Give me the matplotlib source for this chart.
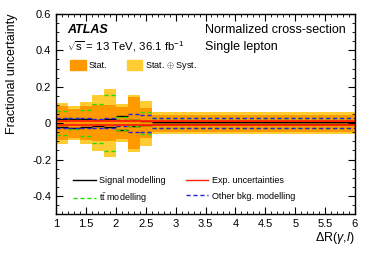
import numpy as np
import matplotlib
matplotlib.use("Agg")
import matplotlib.pyplot as plt
from matplotlib.patches import Patch
from matplotlib.lines import Line2D

plt.rcParams['font.family'] = ['Liberation Sans', 'DejaVu Sans']
plt.rcParams['mathtext.fontset'] = 'custom'
plt.rcParams['mathtext.rm'] = 'Liberation Sans'
plt.rcParams['mathtext.it'] = 'Liberation Sans:italic'
plt.rcParams['mathtext.bf'] = 'Liberation Sans:bold'

# bin edges in dR(gamma, l)
edges = [1.0, 1.2, 1.4, 1.6, 1.8, 2.0, 2.2, 2.4, 2.6, 6.0]

# relative uncertainties per bin (symmetric)
stat_syst = [0.113, 0.093, 0.117, 0.152, 0.185, 0.103, 0.157, 0.123, 0.060]
stat = [0.092, 0.080, 0.095, 0.100, 0.098, 0.089, 0.143, 0.084, 0.047]
signal_mod = [0.020, 0.025, 0.020, 0.015, 0.020, 0.040, 0.015, 0.010, 0.005]
tt_mod = [0.067, 0.030, 0.070, 0.107, 0.155, 0.035, 0.018, 0.062, 0.027]
other_bkg = [0.026, 0.028, 0.028, 0.025, 0.026, 0.018, 0.050, 0.047, 0.027]
exp_unc = [0.012, 0.012, 0.012, 0.012, 0.012, 0.012, 0.012, 0.012, 0.012]

c_stat = '#ff9900'
c_tot = '#ffcc33'
c_tt = '#22dd00'
c_bkg = '#2222dd'
c_exp = '#ff2200'

fig = plt.figure(figsize=(3.74, 2.68), dpi=100)
ax = fig.add_axes([0.150, 0.201, 0.799, 0.747])

tot = np.array(stat_syst)
st = np.array(stat)
ax.stairs(tot, edges, baseline=-tot, fill=True, color=c_tot, lw=0)
ax.stairs(st, edges, baseline=-st, fill=True, color=c_stat, lw=0)

lo = edges[:-1]
hi = edges[1:]

def sym(vals, **kw):
    v = np.array(vals)
    ax.hlines(v, lo, hi, **kw)
    ax.hlines(-v, lo, hi, **kw)

sym(signal_mod, color='black', lw=1.0)
sym(tt_mod, color=c_tt, lw=1.0, linestyles=(0, (3, 2)))
sym(other_bkg, color=c_bkg, lw=1.0, linestyles=(0, (3, 2)))
sym(exp_unc, color=c_exp, lw=1.3)

ax.set_xlim(1, 6)
ax.set_ylim(-0.5, 0.6)
ax.set_xticks([1, 1.5, 2, 2.5, 3, 3.5, 4, 4.5, 5, 5.5, 6])
ax.set_xticklabels(['1', '1.5', '2', '2.5', '3', '3.5', '4', '4.5', '5', '5.5', '6'])
ax.set_yticks([-0.4, -0.2, 0, 0.2, 0.4, 0.6])
ax.set_yticklabels(['-0.4', '-0.2', '0', '0.2', '0.4', '0.6'])
ax.set_xticks(np.arange(1, 6.01, 0.1), minor=True)
ax.set_yticks(np.arange(-0.5, 0.601, 0.05), minor=True)
ax.tick_params(which='both', direction='in', top=True, right=True, labelsize=8)
ax.tick_params(which='major', length=5, width=0.8)
ax.tick_params(which='minor', length=2.5, width=0.6)
for s in ax.spines.values():
    s.set_linewidth(1.0)

ax.set_ylabel('Fractional uncertainty', fontsize=9, loc='top', labelpad=10)
ax.set_xlabel(r'$\Delta$R($\gamma$,$l$)', fontsize=9, loc='right', labelpad=1)

tr = ax.transAxes
ax.text(0.037, 0.918, 'ATLAS', transform=tr, fontsize=9, fontweight='bold',
        fontstyle='italic', va='center')
ax.text(0.037, 0.835, r'$\sqrt{\mathrm{s}}$ = 13 TeV, 36.1 fb$^{-1}$', transform=tr,
        fontsize=8.2, va='center')
ax.text(0.497, 0.918, 'Normalized cross-section', transform=tr, fontsize=9, va='center')
ax.text(0.497, 0.835, 'Single lepton', transform=tr, fontsize=9, va='center')

leg1 = ax.legend(handles=[Patch(color=c_stat, label='Stat.'),
                          Patch(color=c_tot, label=r'Stat. $\oplus$ Syst.')],
                 ncol=2, frameon=False, fontsize=6.5, handlelength=1.7, handleheight=1.2,
                 columnspacing=2.2, handletextpad=0.3,
                 loc='center left', bbox_to_anchor=(0.02, 0.74))
ax.add_artist(leg1)

hs = [Line2D([], [], color='black', lw=1.0, label='Signal modelling'),
      Line2D([], [], color=c_tt, lw=1.0, ls=(0, (3, 2)),
             label=r'$\mathrm{t}\bar{\mathrm{t}}$ modelling'),
      Line2D([], [], color=c_exp, lw=1.0, label='Exp. uncertainties'),
      Line2D([], [], color=c_bkg, lw=1.0, ls=(0, (3, 2)), label='Other bkg. modelling')]
ax.legend(handles=hs, ncol=2, frameon=False, fontsize=6.5, handlelength=2.5,
          columnspacing=2.2, handletextpad=0.4, labelspacing=0.75,
          loc='center left', bbox_to_anchor=(0.03, 0.118))

fig.savefig('out.png', dpi=100)
